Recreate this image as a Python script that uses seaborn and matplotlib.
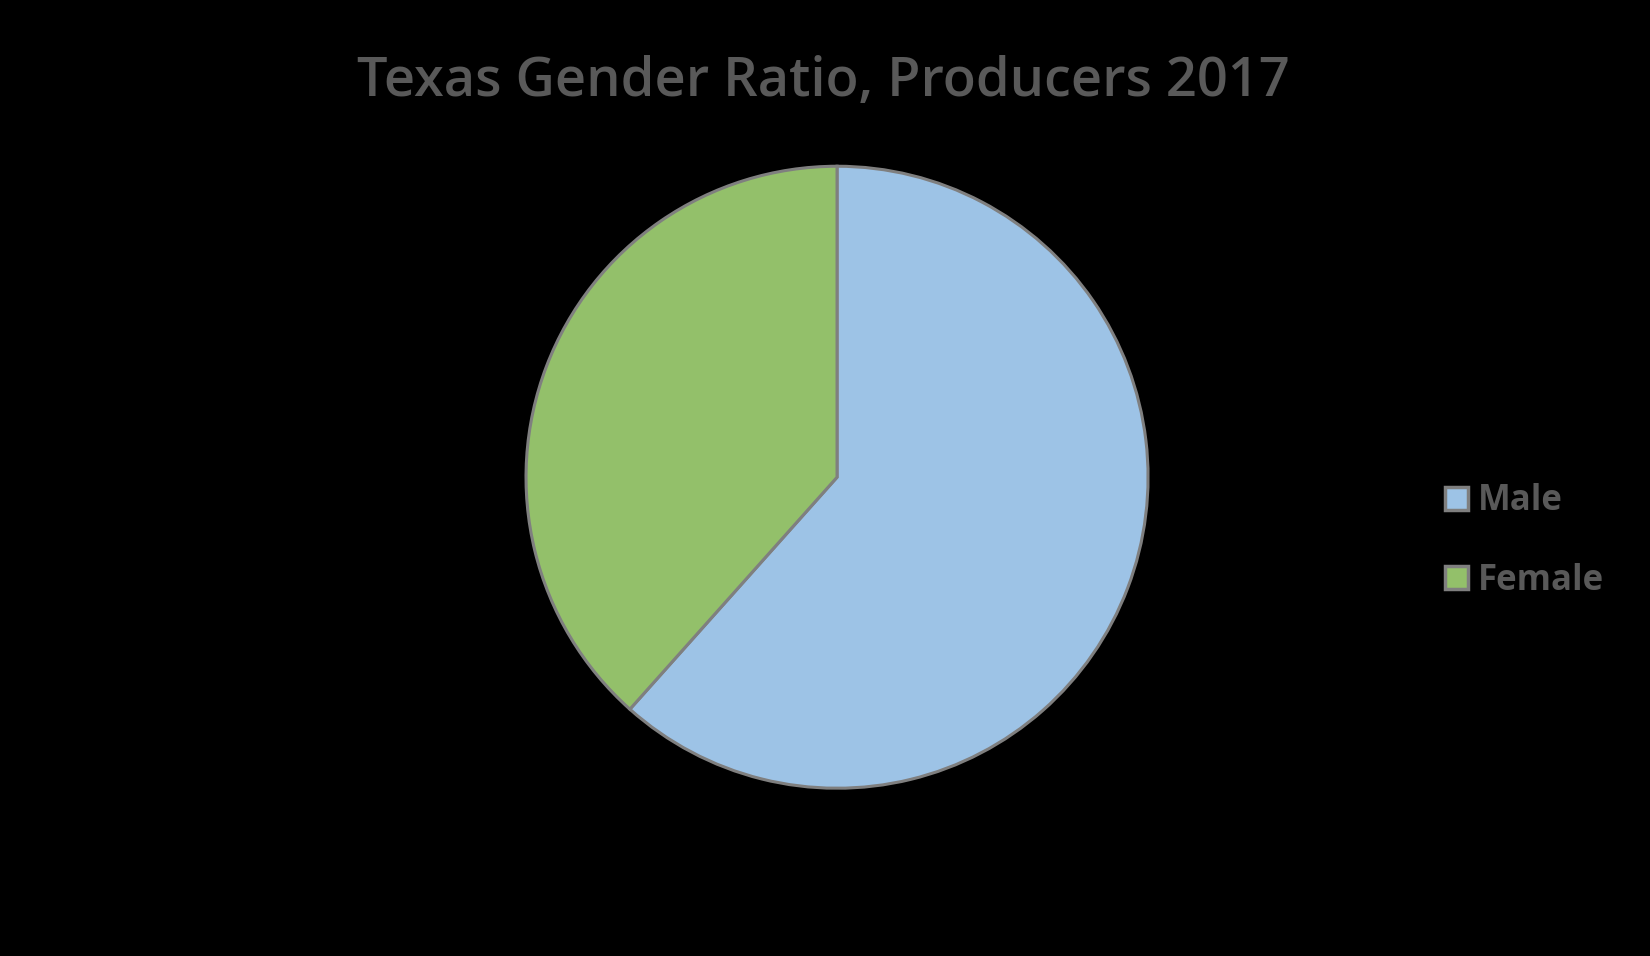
import seaborn as sns
import matplotlib.pyplot as plt

# data
labels = ["Male", "Female"]
shares = [61.6, 38.4]
colors = ["#9dc3e6", "#93c06a"]

sns.set_theme(style="white")
plt.rcParams['font.family'] = ['Open Sans', 'DejaVu Sans']

fig = plt.figure(figsize=(16.5, 9.56), dpi=100, facecolor="black")
ax = fig.add_axes([0.3188, 0.1755, 0.377, 0.6506])
ax.set_facecolor("black")

wedges, _ = ax.pie(
    shares,
    colors=colors,
    startangle=90,
    counterclock=False,
    wedgeprops={'edgecolor': '#7f7f7f', 'linewidth': 2.2},
)
ax.set_xlim(-1.0, 1.0)
ax.set_ylim(-1.0, 1.0)
ax.set_aspect('auto')

fig.text(0.499, 0.914, "Texas Gender Ratio, Producers 2017", ha='center', va='center',
         fontsize=39, fontweight='semibold', color='#595959')

leg = fig.legend(
    wedges, labels,
    loc='center left', bbox_to_anchor=(0.857, 0.434),
    frameon=False, labelcolor='#595959',
    prop={'weight': 'bold', 'size': 25},
    handlelength=0.65, handleheight=0.65, handletextpad=0.3,
    labelspacing=1.25,
)
for h in leg.legend_handles:
    h.set_edgecolor('#7f7f7f')
    h.set_linewidth(2.5)

fig.savefig("out.png", dpi=100, facecolor="black")
